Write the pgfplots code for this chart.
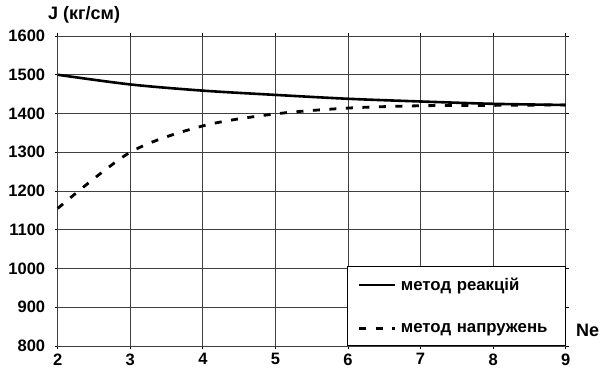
\documentclass[border=0pt]{standalone}
\usepackage{pgfplots}
\pgfplotsset{compat=1.18}
\usepackage{fontspec}
\setmainfont{Liberation Sans Bold}
\begin{document}
\begin{tikzpicture}[font=\fontsize{16.5}{19}\selectfont]
\path[use as bounding box] (-57.7pt,-40pt) rectangle (543.3pt,346pt);
\begin{axis}[
  scale only axis, width=508pt, height=310pt,
  xmin=2, xmax=9, ymin=800, ymax=1600,
  xtick={2,...,9}, ytick={800,900,...,1600},
  /pgf/number format/assume math mode=true,
  /pgf/number format/1000 sep={},
  ticklabel style={font=\fontsize{16.5}{19}\selectfont},
  grid=major, major grid style={black!75, line width=0.7pt},
  axis line style={black!75, line width=0.8pt},
  tick style={black, line width=0.8pt}, tick align=outside, major tick length=3pt,
  xticklabel style={yshift=-1pt},
  yticklabel style={xshift=-6pt},
  legend style={at={(1,0)}, anchor=south east, draw=black, line width=0.6pt,
    fill=white, font=\fontsize{16.8}{19}\selectfont,
    inner xsep=10pt, inner ysep=10pt, row sep=28pt,
    legend cell align=left, nodes={inner sep=1.5pt, text depth=2pt, text width=153pt}},
  legend image code/.code={\draw[#1] (0cm,0cm) -- (36pt,0cm); \path (39pt,0pt);},
  clip=false,
]
\addplot[black, line width=2.6pt, smooth] coordinates {
 (2,1500) (3,1475) (4,1459) (5,1448) (6,1438) (7,1431) (8,1425) (9,1422)};
\addlegendentry{метод реакцій}
\addplot[black, line width=2.8pt, smooth, dash pattern=on 7pt off 9.5pt] coordinates {
 (2,1155) (3,1300) (4,1368) (5,1399) (6,1414) (7,1420) (8,1421) (9,1422)};
\addlegendentry{метод напружень}
\node[anchor=base west, font=\fontsize{18}{21}\selectfont] at (axis cs:9,800) [xshift=7pt, yshift=10pt] {Ne};
\node[anchor=base west, font=\fontsize{18}{21}\selectfont] at (rel axis cs:0,1) [xshift=-13pt, yshift=16pt] {J (кг/см)};
\end{axis}
\end{tikzpicture}
\end{document}
